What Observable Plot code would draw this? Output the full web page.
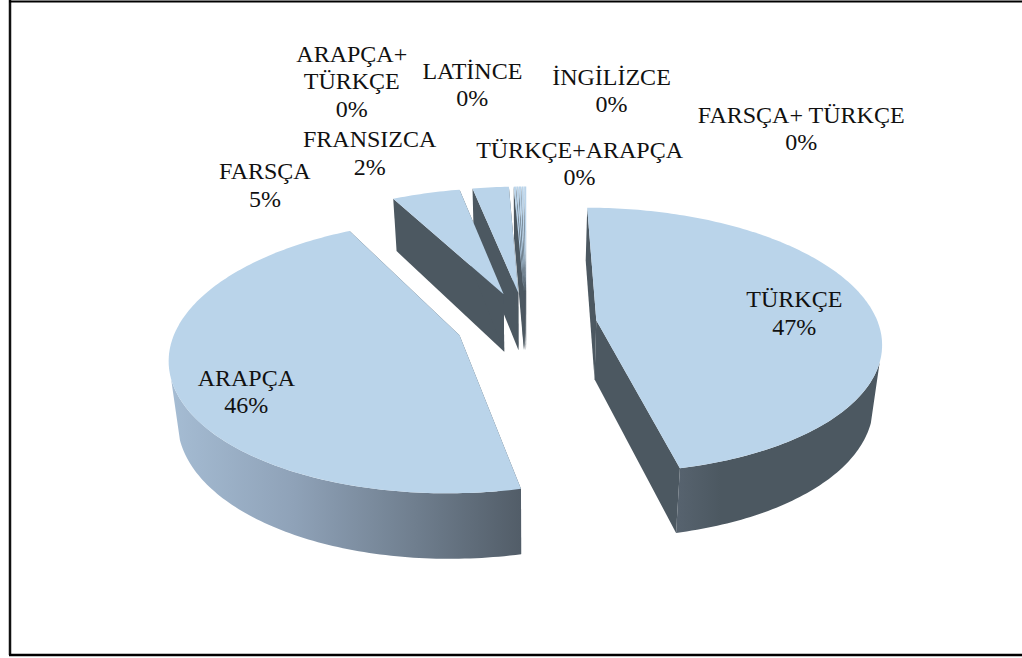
<!DOCTYPE html>
<html>
<head>
<meta charset="utf-8">
<script src="https://cdn.jsdelivr.net/npm/d3@7"></script>
<script src="https://cdn.jsdelivr.net/npm/@observablehq/plot@0.6"></script>
<style>
html,body{margin:0;padding:0;background:#fff}
svg{display:block}
</style>
</head>
<body>
<div id="chart"></div>
<script>
// Data
const categories = ["TÜRKÇE","ARAPÇA","FARSÇA","FRANSIZCA","ARAPÇA+\nTÜRKÇE","LATİNCE","İNGİLİZCE","TÜRKÇE+ARAPÇA","FARSÇA+ TÜRKÇE"];
const shares = [46.5,45.75,4.6,2.45,0.14,0.14,0.14,0.14,0.14];

// Label nudges from each slice's rim midpoint
const labelNudgeX = [-75.5,73.5,-161,-121,-163,-45,91.5,57,276];
const labelNudgeY = [5.6,6.5,-9.5,-35,-106,-103,-97,-24,-59];

// 3D pie model
const cx = 526, cy = 323.4, radiusX = 282, radiusY = 130.5, persp = 0.15, explode = 0.25;
const taper = 0.025, depth0 = 59, depthV = 6;
const rimFrom = 108, rimTo = 252; // where the side wall's silhouette meets the top face
const TOP = "#bad4ea", WALL = "#4c5861";
const rad = d => d * Math.PI / 180;
const total = d3.sum(shares);
let acc = 0;
const slices = shares.map((v, i) => {
  const a0 = acc / total * 360; acc += v;
  const a1 = acc / total * 360;
  return {i, a0, a1, mid: (a0 + a1) / 2};
});
function pt(s, theta, r, low) {
  const U = explode * Math.sin(rad(s.mid)) + r * Math.sin(rad(theta));
  const V = -explode * Math.cos(rad(s.mid)) - r * Math.cos(rad(theta));
  const k = 1 / (1 - persp * V);
  let x = cx + radiusX * U * k, y = cy + radiusY * V * k;
  if (low) { x = cx + (x - cx) * (1 - taper); y += depth0 + depthV * V; }
  return {x, y};
}
const arc = (s, a, b, low) => {
  const n = Math.max(2, Math.ceil((b - a) / 1) + 1);
  return d3.range(n).map(j => pt(s, a + (b - a) * j / (n - 1), 1, low));
};
const poly = (points, fill) => Plot.line(points, {x: "x", y: "y", fill, stroke: "none", curve: "linear"});

const faces = d3.range(slices.length).reverse().flatMap(i => {
  const s = slices[i];
  const marks = [];
  const wall = a => [pt(s, a, 0), pt(s, a, 1), pt(s, a, 1, true), pt(s, a, 0, true)];
  marks.push(poly(wall(s.a0), WALL), poly(wall(s.a1), WALL));
  const r0 = Math.max(s.a0, rimFrom), r1 = Math.min(s.a1, rimTo);
  if (r1 > r0) {
    marks.push(poly([...arc(s, r0, r1), ...arc(s, r0, r1, true).reverse()], `url(#rim${i})`));
  }
  marks.push(poly([pt(s, s.a0, 0), ...arc(s, s.a0, s.a1)], TOP));
  return marks;
});

const gradients = () => {
  const defs = d3.create("svg:defs");
  const add = (id, stops) => {
    const g = defs.append("linearGradient").attr("id", id);
    stops.forEach(([o, c]) => g.append("stop").attr("offset", o).attr("stop-color", c));
  };
  add("rim0", [[0, "#57636f"], [0.22, "#4c5861"], [1, "#4c5861"]]);
  add("rim1", [[0, "#a5bcd3"], [0.35, "#8fa2b8"], [0.7, "#6f7e8e"], [1, "#525d68"]]);
  return defs.node();
};

const labels = slices.map(s => {
  const p = pt(s, s.mid, 1);
  return {
    x: p.x + labelNudgeX[s.i],
    y: p.y + labelNudgeY[s.i],
    text: `${categories[s.i]}\n${Math.round(shares[s.i])}%`
  };
});

const chart = Plot.plot({
  width: 1022, height: 658, margin: 0,
  x: {domain: [0, 1022], range: [0, 1022], axis: null},
  y: {domain: [0, 658], range: [0, 658], axis: null},
  style: {background: "#fff"},
  marks: [
    gradients,
    ...faces,
    Plot.text(labels, {x: "x", y: "y", text: "text", fontFamily: "Liberation Serif", fontSize: 24, lineHeight: 1.155, fill: "#111", textAnchor: "middle", lineAnchor: "middle"}),
    Plot.ruleX([9.5], {y1: 0, y2: 655, stroke: "#111", strokeWidth: 2.5}),
    Plot.ruleY([1], {x1: 9, x2: 1022, stroke: "#000", strokeWidth: 2}),
    Plot.ruleY([654.5], {x1: 9, x2: 1022, stroke: "#000", strokeWidth: 2.5})
  ]
});
document.getElementById("chart").append(chart);
</script>
</body>
</html>
